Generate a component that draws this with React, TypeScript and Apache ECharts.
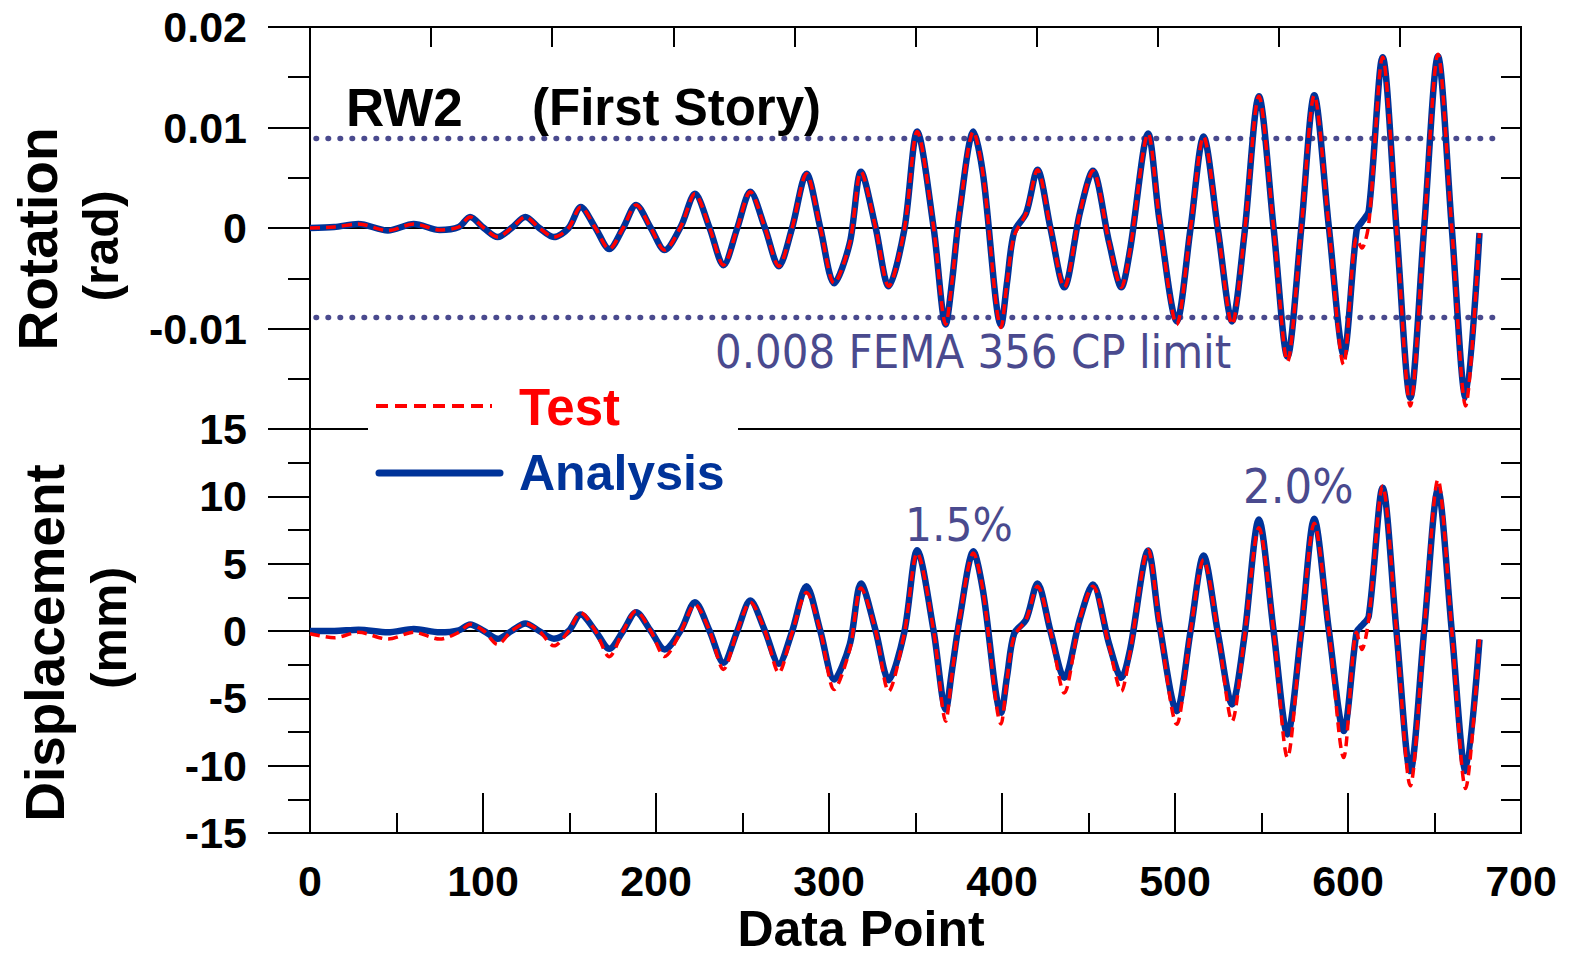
import React, { useEffect, useRef } from "react";
import * as echarts from "echarts";

const dataPoint = [
  0, 14, 28, 45, 60, 75, 86, 92.5, 100.5, 108.5, 116.5, 124.5, 132.5, 141, 149.5, 156.5, 165, 173, 181, 188.5,
  197, 205, 214.5, 222.5, 231, 239, 247, 254.5, 263, 271, 278.5, 287, 295, 303, 312, 318.5, 327, 334.5, 343.5, 351,
  360.5, 367.5, 371, 375.5, 383.5, 389, 399.5, 403, 407, 414, 420.5, 428, 436, 445, 452.5, 462, 469, 474, 484.5, 491,
  501, 509, 516.5, 525, 533, 540, 548.5, 557, 565, 573, 580.5, 589, 597.5, 605, 608, 612, 620, 628, 636, 644,
  652, 660, 668, 676,
];

// Rotation (rad), first story
const rotationAnalysis = [
  0, 0.0001, 0.0004, -0.00025, 0.0004, -0.0002, 0.0001, 0.0011, 0, -0.0009, 0, 0.0011, 0, -0.0009, 0, 0.0021, 0, -0.0021, 0, 0.0023,
  0, -0.0022, 0.0002, 0.0034, 0, -0.0037, 0, 0.0036, 0, -0.0038, -0.0001, 0.0054, 0, -0.0055, -0.0015, 0.0056, 0, -0.0058, -0.0002, 0.0096,
  0, -0.0096, -0.0055, 0.0016, 0.0096, 0.0054, -0.0097, -0.0053, -0.0004, 0.0015, 0.0058, 0, -0.0059, 0.0015, 0.0057, -0.0015, -0.0059, -0.0022, 0.0094, 0.0008,
  -0.0093, 0, 0.0091, -0.0004, -0.0093, -0.0008, 0.0131, 0, -0.0128, 0, 0.0132, 0, -0.0126, -0.0002, 0.0006, 0.0017, 0.017, 0, -0.0169, 0,
  0.0171, 0, -0.0169, -0.0005,
];
const rotationTest = [
  0, 0.0001, 0.0004, -0.00025, 0.0004, -0.0002, 0.0001, 0.0011, 0, -0.0009, 0, 0.0011, 0, -0.0009, 0, 0.0021, 0, -0.0021, 0, 0.0023,
  0, -0.0022, 0.0002, 0.0034, 0, -0.0037, 0, 0.0036, 0, -0.0038, -0.0001, 0.0054, 0, -0.0055, -0.0015, 0.0056, 0, -0.0058, -0.0002, 0.0096,
  0, -0.0096, -0.0055, 0.0016, 0.0096, 0.0054, -0.0099, -0.0053, -0.0008, 0.0015, 0.0058, 0, -0.0059, 0.0015, 0.0057, -0.0015, -0.0059, -0.0022, 0.0094, 0.0008,
  -0.0096, 0, 0.0091, -0.0004, -0.0096, -0.0008, 0.0131, 0, -0.0133, 0, 0.0132, 0, -0.0136, -0.001, -0.002, 0.0004, 0.017, 0, -0.0177, 0,
  0.0173, 0, -0.0177, -0.0005,
];

// Displacement (mm)
const displacementAnalysis = [
  0, 0, 0.1, -0.1, 0.15, -0.1, 0.05, 0.48, 0, -0.58, 0, 0.55, 0, -0.58, 0, 1.22, 0, -1.32, 0, 1.4,
  0, -1.37, 0.1, 2.14, 0, -2.36, 0, 2.26, 0, -2.44, -0.1, 3.33, 0, -3.6, -1.0, 3.53, 0, -3.65, -0.1, 6.0,
  0, -5.83, -3.0, 0.9, 5.92, 3.0, -6.07, -3.3, -0.2, 0.87, 3.53, 0, -3.48, 0.87, 3.45, -1.0, -3.48, -1.4, 5.97, 0.5,
  -5.95, 0, 5.6, -0.3, -5.45, -0.5, 8.28, 0, -7.68, 0, 8.33, 0, -7.43, -0.05, 0.4, 1.1, 10.63, 0, -10.4, 0,
  10.5, 0, -10.4, -0.63,
];
const displacementTest = [
  -0.2, -0.5, -0.1, -0.6, -0.1, -0.6, -0.1, 0.5, 0, -1.0, 0, 0.55, 0, -1.1, 0, 1.35, 0, -1.91, 0, 1.48,
  0, -1.9, 0, 1.97, 0, -2.85, 0, 2.14, 0, -3.1, -0.2, 2.85, 0, -4.35, -1.37, 3.2, 0, -4.47, -0.2, 5.8,
  0, -6.7, -3.3, 0.9, 5.8, 3.0, -6.9, -3.5, -0.4, 0.87, 3.33, 0, -4.6, 0.87, 3.33, -1.2, -4.47, -1.6, 6.05, 0.5,
  -6.93, 0, 5.3, -0.3, -6.7, -0.6, 7.66, 0, -9.4, 0, 8.0, 0, -9.4, -0.1, -1.37, 0.9, 10.76, 0, -11.5, 0,
  11.25, 0, -11.7, -0.63,
];

// FEMA 356 CP limit lines (rad) and their extent in data points
const limitValue = 0.0089;
const limitRange = [3.5, 686];

const BOLD = "'Liberation Sans', Arial, sans-serif";
const VERD = "'DejaVu Sans', Verdana, sans-serif";
const BLUE = "#003399";
const RED = "#ff0000";
const SLATE = "#4a4a8e";

export default function App() {
  const ref = useRef<HTMLDivElement>(null);
  useEffect(() => {
    if (!ref.current) return;
    const chart = echarts.init(ref.current, undefined, { renderer: "svg" });
    const tickLine = { color: "#000", width: 2 };
    const label = { fontSize: 43, fontWeight: "bold", color: "#000", fontFamily: BOLD };
    const pair = (ys: number[]) => dataPoint.map((x, i) => [x, ys[i]]);
    const lineBase = { type: "line", showSymbol: false, symbol: "none", smooth: 0.3, silent: true };
    const text = (t: string, x: number, y: number, size: number, color: string, family: string, weight: string, extra: any = {}) => ({
      type: "text",
      x,
      y,
      z: 20,
      ...extra,
      style: {
        text: t,
        fill: color,
        fontSize: size,
        fontFamily: family,
        fontWeight: weight,
        align: extra.align || "left",
        textAlign: extra.align || "left",
        verticalAlign: "middle",
        textVerticalAlign: "middle",
      },
    });
    const option: any = {
      animation: false,
      backgroundColor: "#fff",
      grid: [
        { left: 310, top: 27, width: 1211, height: 402, show: true, borderColor: "#000", borderWidth: 2, backgroundColor: "transparent" },
        { left: 310, top: 429, width: 1211, height: 404, show: true, borderColor: "#000", borderWidth: 2, backgroundColor: "transparent" },
      ],
      xAxis: [
        {
          gridIndex: 0, type: "value", min: 0, max: 700, interval: 70, position: "top",
          axisLine: { show: false, onZero: false },
          axisTick: { show: true, inside: true, length: 20, lineStyle: tickLine },
          axisLabel: { show: false }, splitLine: { show: false },
        },
        {
          gridIndex: 1, type: "value", min: 0, max: 700, interval: 100, position: "bottom",
          axisLine: { show: false, onZero: false },
          axisTick: { show: true, inside: true, length: 40, lineStyle: tickLine },
          minorTick: { show: true, splitNumber: 2, length: 20, lineStyle: tickLine },
          axisLabel: { ...label, margin: 26, formatter: (v: number) => String(Math.round(v)) },
          splitLine: { show: false }, minorSplitLine: { show: false },
        },
      ],
      yAxis: [
        {
          gridIndex: 0, type: "value", min: -0.02, max: 0.02, interval: 0.01, position: "left",
          axisLine: { show: false, onZero: false },
          axisTick: { show: true, length: 42, lineStyle: tickLine },
          minorTick: { show: true, splitNumber: 2, length: 22, lineStyle: tickLine },
          axisLabel: {
            ...label, margin: 63,
            formatter: (v: number) => {
              const r = Math.round(v * 100) / 100;
              if (r === -0.02) return "";
              return r === 0 ? "0" : r.toFixed(2);
            },
          },
          splitLine: { show: false }, minorSplitLine: { show: false },
        },
        {
          gridIndex: 0, type: "value", min: -0.02, max: 0.02, interval: 0.005, position: "right",
          axisLine: { show: false, onZero: false },
          axisTick: { show: true, inside: true, length: 20, lineStyle: tickLine },
          axisLabel: { show: false }, splitLine: { show: false },
        },
        {
          gridIndex: 1, type: "value", min: -15, max: 15, interval: 5, position: "left",
          axisLine: { show: false, onZero: false },
          axisTick: { show: true, length: 42, lineStyle: tickLine },
          minorTick: { show: true, splitNumber: 2, length: 22, lineStyle: tickLine },
          axisLabel: { ...label, margin: 63, formatter: (v: number) => String(Math.round(v)) },
          splitLine: { show: false }, minorSplitLine: { show: false },
        },
        {
          gridIndex: 1, type: "value", min: -15, max: 15, interval: 2.5, position: "right",
          axisLine: { show: false, onZero: false },
          axisTick: { show: true, inside: true, length: 20, lineStyle: tickLine },
          axisLabel: { show: false }, splitLine: { show: false },
        },
      ],
      series: [
        { ...lineBase, smooth: false, name: "zero1", xAxisIndex: 0, yAxisIndex: 0, data: [[0, 0], [700, 0]], lineStyle: { color: "#000", width: 2 }, z: 2 },
        { ...lineBase, smooth: false, name: "zero2", xAxisIndex: 1, yAxisIndex: 2, data: [[0, 0], [700, 0]], lineStyle: { color: "#000", width: 2 }, z: 2 },
        { ...lineBase, smooth: false, name: "limitUp", xAxisIndex: 0, yAxisIndex: 0, data: limitRange.map((x) => [x, limitValue]), lineStyle: { color: SLATE, width: 5.5, type: [0.5, 11.5], cap: "round" }, z: 3 },
        { ...lineBase, smooth: false, name: "limitDown", xAxisIndex: 0, yAxisIndex: 0, data: limitRange.map((x) => [x, -limitValue]), lineStyle: { color: SLATE, width: 5.5, type: [0.5, 11.5], cap: "round" }, z: 3 },
        { ...lineBase, name: "Analysis", xAxisIndex: 0, yAxisIndex: 0, data: pair(rotationAnalysis), lineStyle: { color: BLUE, width: 6.5 }, z: 4 },
        { ...lineBase, name: "Test", xAxisIndex: 0, yAxisIndex: 0, data: pair(rotationTest), lineStyle: { color: RED, width: 3.5, type: [10, 6] }, z: 5 },
        { ...lineBase, name: "Analysis", xAxisIndex: 1, yAxisIndex: 2, data: pair(displacementAnalysis), lineStyle: { color: BLUE, width: 6.5 }, z: 4 },
        { ...lineBase, name: "Test", xAxisIndex: 1, yAxisIndex: 2, data: pair(displacementTest), lineStyle: { color: RED, width: 3.5, type: [10, 6] }, z: 5 },
      ],
      graphic: [
        { type: "rect", z: 15, shape: { x: 368, y: 385, width: 370, height: 105 }, style: { fill: "#fff" } },
        { type: "line", z: 16, shape: { x1: 376, y1: 406, x2: 492, y2: 406 }, style: { stroke: RED, lineWidth: 4, lineDash: [12, 7] } },
        { type: "line", z: 16, shape: { x1: 379, y1: 473, x2: 500, y2: 473 }, style: { stroke: BLUE, lineWidth: 7, lineCap: "round" } },
        text("Test", 519, 407, 51, RED, BOLD, "bold"),
        text("Analysis", 519, 473, 50, BLUE, BOLD, "bold"),
        text("RW2", 346, 107, 53, "#000", BOLD, "bold"),
        text("(First Story)", 532, 107, 51, "#000", BOLD, "bold"),
        text("0.008 FEMA 356 CP limit", 715, 352, 42, SLATE, VERD, "normal", { scaleY: 1.1 }),
        text("1.5%", 905, 525, 42.5, SLATE, VERD, "normal", { scaleY: 1.1 }),
        text("2.0%", 1243, 487, 43.5, SLATE, VERD, "normal", { scaleY: 1.1 }),
        text("Rotation", 38, 239, 55, "#000", BOLD, "bold", { rotation: Math.PI / 2, align: "center" }),
        text("(rad)", 101, 246, 50, "#000", BOLD, "bold", { rotation: Math.PI / 2, align: "center" }),
        text("Displacement", 45, 643, 55, "#000", BOLD, "bold", { rotation: Math.PI / 2, align: "center" }),
        text("(mm)", 109, 628, 50, "#000", BOLD, "bold", { rotation: Math.PI / 2, align: "center" }),
        text("Data Point", 861, 929, 50, "#000", BOLD, "bold", { align: "center" }),
      ],
    };
    chart.setOption(option);
    return () => chart.dispose();
  }, []);
  return <div ref={ref} style={{ position: "fixed", left: 0, top: 0, width: 1569, height: 957 }} />;
}
